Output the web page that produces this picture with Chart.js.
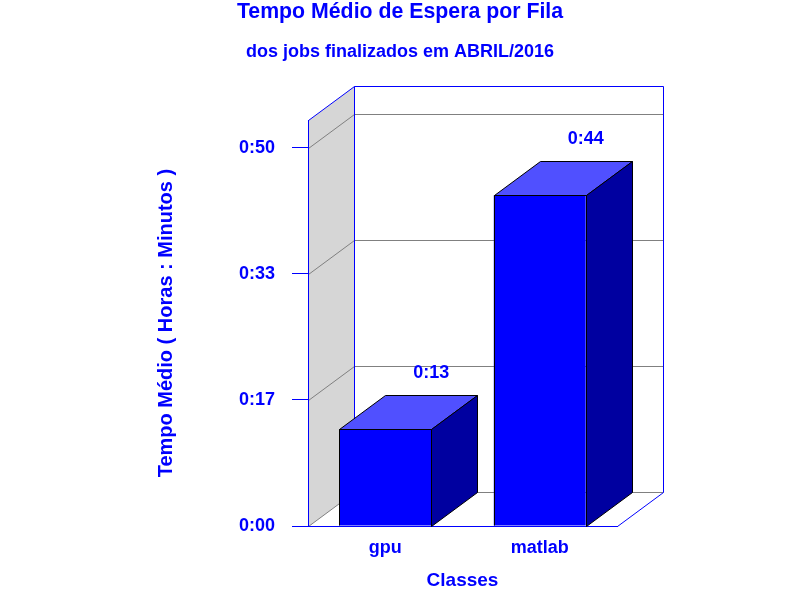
<!DOCTYPE html>
<html>
<head>
<meta charset="utf-8">
<title>Tempo Médio de Espera por Fila</title>
<script src="https://cdn.jsdelivr.net/npm/chart.js"></script>
<style>
    body { margin: 0; background: #fff; }
    #myChart { display: block; }
</style>
</head>
<body>
<canvas id="myChart" width="800" height="600"></canvas>
<script>
// dados (tempo medio em segundos)
var classes = ['gpu', 'matlab'];
var waitSeconds = [767, 2624];
var yTicks = [0, 1000, 2000, 3000];
var yMax = 3220;

var blue = '#0000ff';
var fontFamily = '"Liberation Sans", Arial, sans-serif';
var depthX = 46, depthY = -34;

function hhmm(sec) {
    var min = Math.round(sec / 60);
    var h = Math.floor(min / 60);
    var m = min % 60;
    return h + ':' + (m < 10 ? '0' : '') + m;
}

function line(ctx, pts, color) {
    ctx.beginPath();
    ctx.moveTo(pts[0][0], pts[0][1]);
    for (var i = 1; i < pts.length; i++) {
        ctx.lineTo(pts[i][0], pts[i][1]);
    }
    ctx.strokeStyle = color;
    ctx.lineWidth = 1;
    ctx.stroke();
}

function poly(ctx, pts, fill) {
    ctx.beginPath();
    ctx.moveTo(pts[0][0], pts[0][1]);
    for (var i = 1; i < pts.length; i++) {
        ctx.lineTo(pts[i][0], pts[i][1]);
    }
    ctx.closePath();
    ctx.fillStyle = fill;
    ctx.fill();
    ctx.strokeStyle = '#000';
    ctx.lineWidth = 1;
    ctx.stroke();
}

// paredes e grade 3d
var walls3d = {
    id: 'walls3d',
    beforeDraw: function(chart) {
        var ctx = chart.ctx;
        var area = chart.chartArea;
        var yScale = chart.scales.y;
        var l = Math.round(area.left) + 0.5;
        var r = Math.round(area.right) + 0.5;
        var t = Math.round(area.top) + 0.5;
        var b = Math.round(area.bottom) + 0.5;
        ctx.save();
        ctx.beginPath();
        ctx.moveTo(l, t);
        ctx.lineTo(l + depthX, t + depthY);
        ctx.lineTo(l + depthX, b + depthY);
        ctx.lineTo(l, b);
        ctx.closePath();
        ctx.fillStyle = '#d6d6d6';
        ctx.fill();

        yTicks.forEach(function(v) {
            var y = Math.round(yScale.getPixelForValue(v)) + 0.5;
            line(ctx, [[l, y], [l + depthX, y + depthY], [r + depthX, y + depthY]], '#808080');
        });

        line(ctx, [[l, t], [l + depthX, t + depthY], [r + depthX, t + depthY], [r + depthX, b + depthY]], blue);
        line(ctx, [[l + depthX, t + depthY], [l + depthX, b + depthY]], blue);
        line(ctx, [[r, b], [r + depthX, b + depthY]], blue);
        ctx.restore();
    },
    afterDatasetsDraw: function(chart) {
        var ctx = chart.ctx;
        var meta = chart.getDatasetMeta(0);
        ctx.save();
        meta.data.forEach(function(bar, i) {
            var p = bar.getProps(['x', 'y', 'base', 'width'], true);
            var left = Math.round(p.x - p.width / 2) + 0.5;
            var right = Math.round(p.x + p.width / 2) + 0.5;
            var top = Math.round(p.y) + 0.5;
            var bottom = Math.round(p.base) + 0.5;
            poly(ctx, [[left, top], [left + depthX, top + depthY], [right + depthX, top + depthY], [right, top]], '#5050ff');
            poly(ctx, [[right, top], [right + depthX, top + depthY], [right + depthX, bottom + depthY], [right, bottom]], '#0000a0');
            line(ctx, [[left, top], [right, top], [right, bottom - 1]], '#000');
            line(ctx, [[left, top], [left, bottom - 1]], '#000');

            ctx.fillStyle = blue;
            ctx.font = 'bold 18px ' + fontFamily;
            ctx.textAlign = 'center';
            ctx.textBaseline = 'middle';
            ctx.fillText(hhmm(waitSeconds[i]), p.x + depthX, top + depthY - 22);
        });
        ctx.restore();
    }
};

Chart.defaults.font.family = fontFamily;
Chart.defaults.color = blue;

var ctx = document.getElementById('myChart').getContext('2d');
var myChart = new Chart(ctx, {
    type: 'bar',
    data: {
        labels: classes,
        datasets: [{
            data: waitSeconds,
            backgroundColor: blue,
            borderWidth: 0,
            barPercentage: 0.595,
            categoryPercentage: 1
        }]
    },
    options: {
        responsive: false,
        animation: false,
        layout: { padding: 0 },
        plugins: {
            legend: { display: false },
            tooltip: { enabled: false },
            title: {
                display: true,
                text: 'Tempo Médio de Espera por Fila',
                color: blue,
                font: { size: 21.3, weight: 'bold', lineHeight: 1.15 },
                padding: { top: 0, bottom: 16.5 }
            },
            subtitle: {
                display: true,
                text: 'dos jobs finalizados em ABRIL/2016',
                color: blue,
                font: { size: 18, weight: 'bold', lineHeight: 1.2 },
                padding: { top: 0, bottom: 57.6 }
            }
        },
        scales: {
            x: {
                grid: { display: false, drawTicks: false },
                border: { color: blue, width: 1 },
                ticks: { color: blue, padding: 11, font: { size: 18, weight: 'bold' } },
                title: {
                    display: true,
                    text: 'Classes',
                    color: blue,
                    font: { size: 19, weight: 'bold' },
                    padding: { top: 0, bottom: 7.6 }
                },
                afterFit: function(scale) { scale.height = 74; }
            },
            y: {
                min: 0,
                max: yMax,
                grid: { drawOnChartArea: false, drawTicks: true, tickLength: 16, color: blue },
                border: { color: blue, width: 1 },
                ticks: {
                    stepSize: 1000,
                    padding: 17,
                    color: blue,
                    font: { size: 18, weight: 'bold' },
                    callback: function(value) { return hhmm(value); }
                },
                afterBuildTicks: function(scale) {
                    scale.ticks = yTicks.map(function(v) { return { value: v }; });
                },
                title: {
                    display: true,
                    text: 'Tempo Médio ( Horas : Minutos )',
                    color: blue,
                    font: { size: 20, weight: 'bold' },
                    padding: { top: 154, bottom: 0 }
                },
                afterFit: function(scale) { scale.width = 308; }
            },
            yRight: {
                position: 'right',
                grid: { display: false },
                border: { display: false },
                ticks: { display: false },
                afterFit: function(scale) { scale.width = 183; }
            }
        }
    },
    plugins: [walls3d]
});
</script>
</body>
</html>
